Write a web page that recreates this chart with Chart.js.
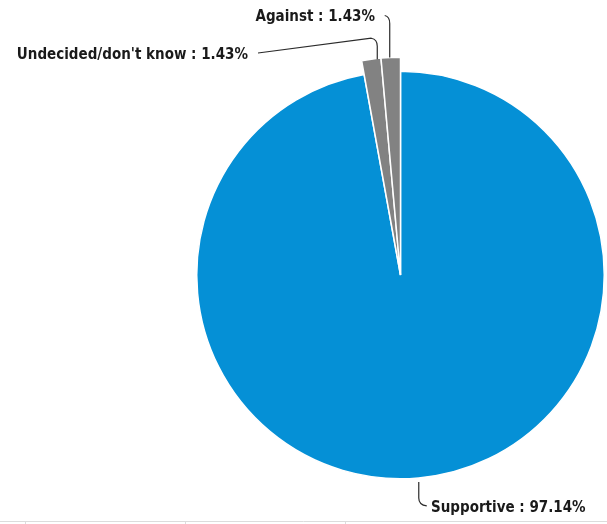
<!DOCTYPE html>
<html>
<head>
<meta charset="utf-8">
<script src="https://cdn.jsdelivr.net/npm/chart.js@4/dist/chart.umd.min.js"></script>
<style>
  html, body { margin: 0; padding: 0; background: #fff; }
  #wrap { width: 607px; height: 524px; position: relative; }
</style>
</head>
<body>
<div id="wrap"><canvas id="chartOpinion"></canvas></div>
<script>
// datos (70 respuestas)
const categorias = ["Supportive", "Undecided/don't know", "Against"];
const respuestas = [68, 1, 1];
const porcentajes = ["97.14%", "1.43%", "1.43%"];
const colores = ["#0590d6", "#828282", "#828282"];

// agranda las porciones grises (salen un poco del circulo)
const extraRadio = {
  id: "extraRadio",
  afterDatasetsUpdate(chart) {
    const meta = chart.getDatasetMeta(0);
    meta.data.forEach((arc, i) => {
      if (i > 0) arc.outerRadius = arc.outerRadius + 14;
    });
  },
};

// etiquetas con lineas guia
const etiquetas = {
  id: "etiquetas",
  afterDraw(chart) {
    const ctx = chart.ctx;
    const meta = chart.getDatasetMeta(0);

    const punto = (arc) => {
      const a = (arc.startAngle + arc.endAngle) / 2;
      return { x: arc.x + Math.cos(a) * arc.outerRadius, y: arc.y + Math.sin(a) * arc.outerRadius };
    };

    ctx.save();
    ctx.strokeStyle = "#2b2b2b";
    ctx.lineWidth = 1.2;

    // Supportive
    const s = punto(meta.data[0]);
    ctx.beginPath();
    ctx.moveTo(s.x, s.y + 4);
    ctx.lineTo(s.x, s.y + 20);
    ctx.quadraticCurveTo(s.x, s.y + 27, s.x + 8, s.y + 28);
    ctx.stroke();

    // Undecided
    const u = punto(meta.data[1]);
    ctx.beginPath();
    ctx.moveTo(u.x + 6, u.y);
    ctx.lineTo(u.x + 6, u.y - 13);
    ctx.quadraticCurveTo(u.x + 6, u.y - 20, u.x, u.y - 21);
    ctx.lineTo(258, 53);
    ctx.stroke();

    // Against
    const g = punto(meta.data[2]);
    ctx.beginPath();
    ctx.moveTo(g.x - 1, g.y);
    ctx.lineTo(g.x - 1, g.y - 34);
    ctx.quadraticCurveTo(g.x - 1, g.y - 41, g.x - 6, g.y - 42);
    ctx.stroke();

    ctx.fillStyle = "#1a1a1a";
    ctx.font = "bold 15px 'DejaVu Sans Condensed'";
    ctx.textBaseline = "middle";
    ctx.textAlign = "left";
    ctx.fillText(categorias[0] + " : " + porcentajes[0], 431, 508);
    ctx.textAlign = "right";
    ctx.fillText(categorias[1] + " : " + porcentajes[1], 248, 55);
    ctx.fillText(categorias[2] + " : " + porcentajes[2], 375, 17);

    // borde de la tabla de abajo
    ctx.strokeStyle = "#dcdcdc";
    ctx.lineWidth = 1;
    ctx.beginPath();
    ctx.moveTo(0, 521.5);
    ctx.lineTo(607, 521.5);
    [25, 185, 345].forEach((x) => {
      ctx.moveTo(x + 0.5, 521.5);
      ctx.lineTo(x + 0.5, 524);
    });
    ctx.stroke();
    ctx.restore();
  },
};

new Chart(document.getElementById("chartOpinion"), {
  type: "pie",
  data: {
    labels: categorias,
    datasets: [
      {
        data: respuestas,
        backgroundColor: colores,
        borderColor: "#ffffff",
        borderWidth: 1.5,
      },
    ],
  },
  options: {
    responsive: true,
    maintainAspectRatio: false,
    animation: false,
    layout: { padding: { left: 196, right: 2, top: 70, bottom: 44 } },
    plugins: { legend: { display: false }, tooltip: { enabled: false } },
  },
  plugins: [extraRadio, etiquetas],
});
</script>
</body>
</html>
